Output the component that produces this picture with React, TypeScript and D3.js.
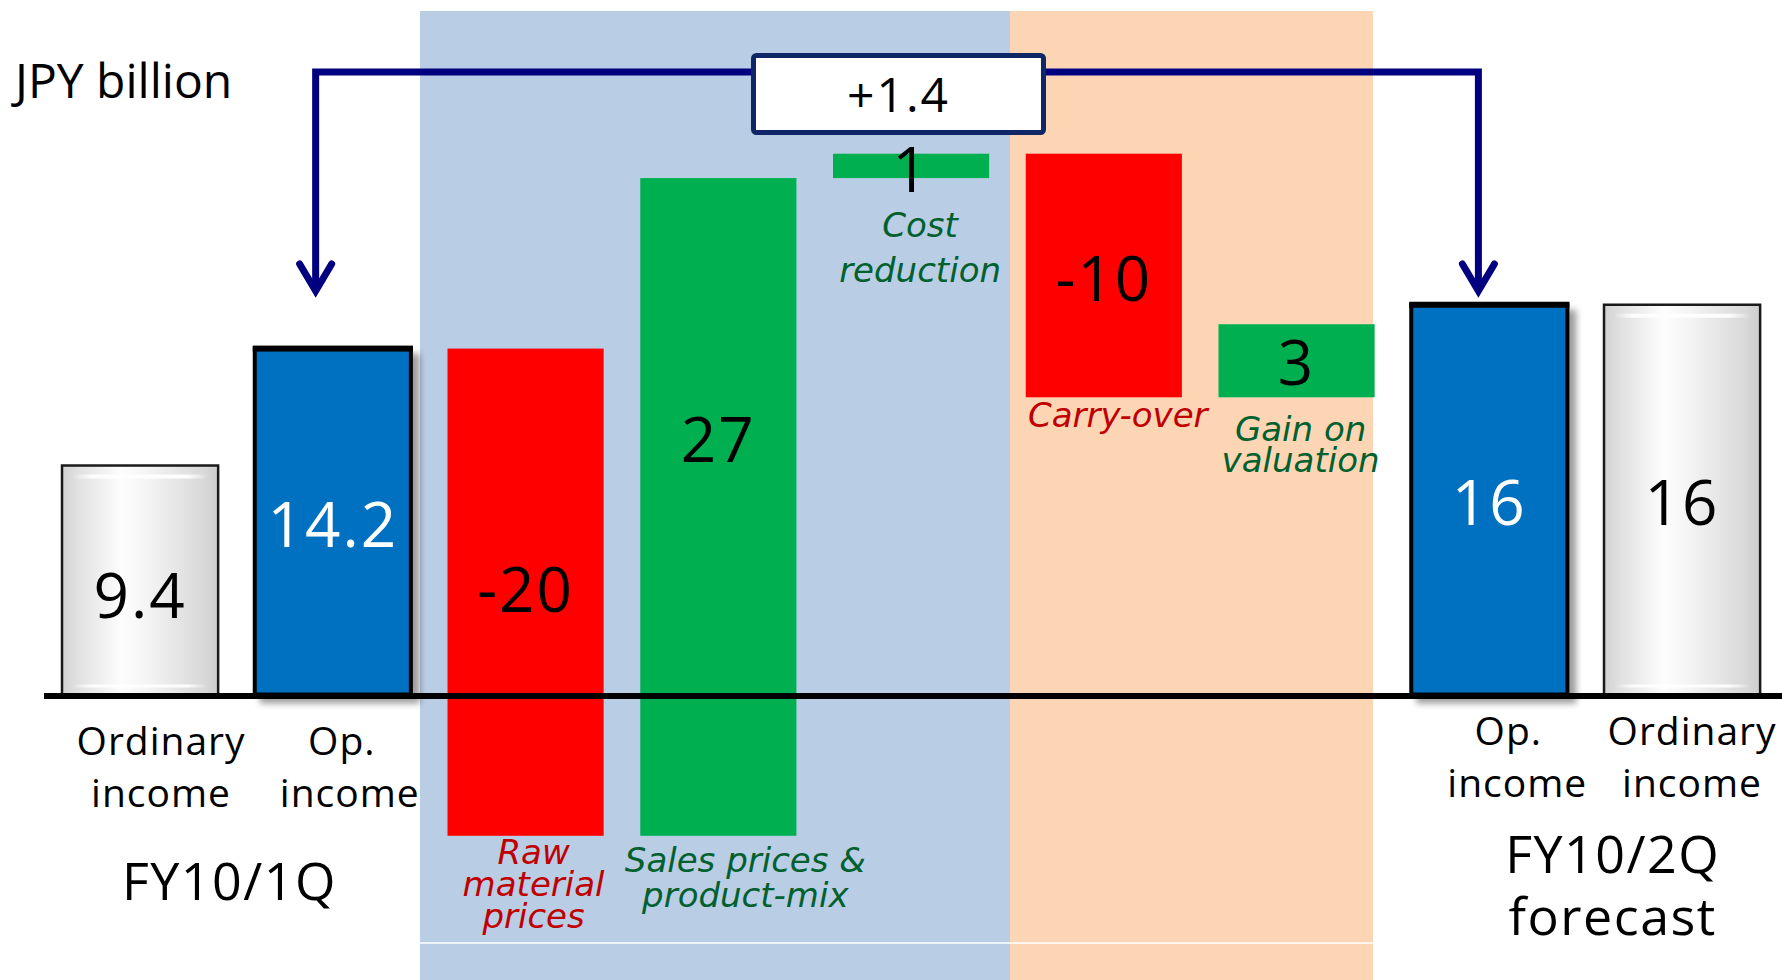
import React from "react";
import * as d3 from "d3";

const W = 1782;
const H = 980;

// ---- data ----
const barKeys = ["oi10_1q", "op10_1q", "raw", "sales", "cost", "carry", "gain", "op10_2q", "oi10_2q"];
const barKinds = ["ordinary", "operating", "delta", "delta", "delta", "delta", "delta", "operating", "ordinary"];
const barValues = [9.4, 14.2, -20, 27, 1, -10, 3, 16, 16];
const valueLabels = ["9.4", "14.2", "-20", "27", "1", "-10", "3", "16", "16"];
const axisLabels: (string[] | null)[] = [
  ["Ordinary", "income"],
  ["Op.", "income"],
  null, null, null, null, null,
  ["Op.", "income"],
  ["Ordinary", "income"],
];
const factorLabels = [
  ["Raw", "material", "prices"],
  ["Sales prices &", "product-mix"],
  ["Cost", "reduction"],
  ["Carry-over"],
  ["Gain on", "valuation"],
];
const periodLabels = [["FY10/1Q"], ["FY10/2Q", "forecast"]];
const changeLabel = "+1.4";
const unitLabel = "JPY billion";

// ---- layout tweaks ----
const valueLabelDy = [16, 3, -2, 4, 4, 3, 2, 3, 3];
const valueLabelFromZero = [false, false, false, true, false, false, false, false, false];
const factorLabelDx = [8, 27, 9, 14, 4];
const factorLabelDy = [28, 36, 59, 30, 44];
const factorLineHeight = [32, 35, 45, 30, 31];
const axisLabelDx = [21, 9, 0, 0, 0, 0, 0, 19, 10];
const axisLabelDx2 = [21, 17, 0, 0, 0, 0, 0, 28, 10];

const COLORS = {
  operating: "#0070C0",
  up: "#00B050",
  down: "#FF0000",
  upText: "#00602E",
  downText: "#C00000",
  bgBlue: "#B9CDE5",
  bgOrange: "#FCD5B5",
  bracket: "#000080",
  box: "#0F2766",
};

const SANS = "'Open Sans', 'Noto Sans', sans-serif";
const ITALIC = "'DejaVu Sans', 'Noto Sans', sans-serif";

export default function App() {
  const x = d3
    .scaleBand<string>()
    .domain(barKeys)
    .range([43.7, 1778.45])
    .paddingInner(0.19)
    .paddingOuter(0.095);
  const bw = x.bandwidth();
  const y = d3.scaleLinear().domain([0, 16]).range([694.5, 694.5 - 16 * 24.36]);
  const zeroY = 696;

  // waterfall extents
  let run = 0;
  const segs = barValues.map((v, i) => {
    if (barKinds[i] === "delta") {
      const a = run;
      const b = run + v;
      run = b;
      return { lo: Math.min(a, b), hi: Math.max(a, b) };
    }
    if (i === 1) run = v;
    return { lo: 0, hi: v };
  });

  const cx = (i: number) => (x(barKeys[i]) as number) + bw / 2;

  const blueX0 = (x("raw") as number) - 27.5;
  const blueX1 = (x("carry") as number) - 15.75;
  const orangeX1 = (x("gain") as number) + bw - 1.6;

  const arrowL = (x("op10_1q") as number) + bw * 0.39;
  const arrowR = (x("op10_2q") as number) + bw * 0.43;
  const bracketY = 72;
  const tipY = 291;

  const deltaIdx = barKeys.map((_, i) => i).filter((i) => barKinds[i] === "delta");

  return (
    <svg
      width={W}
      height={H}
      style={{ position: "absolute", left: 0, top: 0, display: "block", background: "#fff" }}
    >
      <defs>
        <linearGradient id="grayBar" x1="0" x2="1" y1="0" y2="0">
          <stop offset="0" stopColor="#d2d2d2" />
          <stop offset="0.1" stopColor="#e0e0e0" />
          <stop offset="0.38" stopColor="#fdfdfd" />
          <stop offset="0.55" stopColor="#f4f4f4" />
          <stop offset="0.9" stopColor="#d9d9d9" />
          <stop offset="1" stopColor="#cdcdcd" />
        </linearGradient>
        <linearGradient id="shine" x1="0" x2="1" y1="0" y2="0">
          <stop offset="0" stopColor="#fff" stopOpacity="0" />
          <stop offset="0.15" stopColor="#fff" stopOpacity="0.9" />
          <stop offset="0.85" stopColor="#fff" stopOpacity="0.9" />
          <stop offset="1" stopColor="#fff" stopOpacity="0" />
        </linearGradient>
        <filter id="barShadow" x="-20%" y="-20%" width="150%" height="140%">
          <feDropShadow dx="7" dy="7" stdDeviation="3" floodColor="#000" floodOpacity="0.38" />
        </filter>
      </defs>

      {/* factor background bands */}
      <rect x={blueX0} y={11} width={blueX1 - blueX0} height={H - 11} fill={COLORS.bgBlue} />
      <rect x={blueX1} y={11} width={orangeX1 - blueX1} height={H - 11} fill={COLORS.bgOrange} />
      <line x1={blueX0} x2={orangeX1} y1={943} y2={943} stroke="#fff" strokeWidth={1.5} />

      {/* total bars */}
      {barKeys.map((k, i) => {
        const kind = barKinds[i];
        if (kind === "delta") return null;
        const x0 = x(k) as number;
        const top = y(segs[i].hi);
        const bot = y(0);
        if (kind === "ordinary") {
          return (
            <g key={k}>
              <rect x={x0} y={top} width={bw} height={bot - top} fill="url(#grayBar)" stroke="#1a1a1a" strokeWidth={2.5} />
              <rect x={x0 + 10} y={top + 9} width={bw - 20} height={4} fill="url(#shine)" />
              <rect x={x0 + 10} y={bot - 10} width={bw - 20} height={3} fill="url(#shine)" />
            </g>
          );
        }
        return (
          <g key={k}>
            <rect
              x={x0}
              y={top}
              width={bw}
              height={bot - top}
              fill={COLORS.operating}
              stroke="#000"
              strokeWidth={4}
              filter="url(#barShadow)"
            />
            <rect x={x0 - 2} y={top - 3} width={bw + 4} height={6} fill="#000" />
          </g>
        );
      })}

      {/* bridge bars */}
      {deltaIdx.map((i) => (
        <rect
          key={barKeys[i]}
          x={x(barKeys[i]) as number}
          y={y(segs[i].hi)}
          width={bw}
          height={y(segs[i].lo) - y(segs[i].hi)}
          fill={barValues[i] < 0 ? COLORS.down : COLORS.up}
        />
      ))}

      {/* zero line */}
      <line x1={44} x2={W} y1={zeroY} y2={zeroY} stroke="#000" strokeWidth={6} />

      {/* value labels */}
      {barKeys.map((k, i) => {
        const lo = valueLabelFromZero[i] ? Math.max(0, segs[i].lo) : segs[i].lo;
        const mid = (y(lo) + y(segs[i].hi)) / 2;
        const fill = barKinds[i] === "operating" ? "#fff" : "#000";
        return (
          <text
            key={k}
            x={cx(i)}
            y={mid + 62 * 0.357 + valueLabelDy[i]}
            textAnchor="middle"
            fontFamily={SANS}
            fontSize={62}
            letterSpacing={2}
            fill={fill}
          >
            {valueLabels[i]}
          </text>
        );
      })}

      {/* factor labels */}
      {deltaIdx.map((i, j) => {
        const lines = factorLabels[j];
        const base = y(segs[i].lo) + factorLabelDy[j];
        return (
          <text
            key={barKeys[i]}
            textAnchor="middle"
            fontFamily={ITALIC}
            fontStyle="italic"
            fontSize={34}
            fill={barValues[i] < 0 ? COLORS.downText : COLORS.upText}
          >
            {lines.map((t, li) => (
              <tspan key={li} x={cx(i) + factorLabelDx[j]} y={base + li * factorLineHeight[j]}>
                {t}
              </tspan>
            ))}
          </text>
        );
      })}

      {/* category labels */}
      {axisLabels.map((lines, i) => {
        if (!lines) return null;
        const right = i > 4;
        const b1 = right ? 745 : 755;
        return (
          <text key={i} textAnchor="middle" fontFamily={SANS} fontSize={39} letterSpacing={1} fill="#000">
            <tspan x={cx(i) + axisLabelDx[i]} y={b1}>
              {lines[0]}
            </tspan>
            <tspan x={cx(i) + axisLabelDx2[i]} y={b1 + 52}>
              {lines[1]}
            </tspan>
          </text>
        );
      })}

      {/* period labels */}
      <text textAnchor="middle" fontFamily={SANS} fontSize={52} letterSpacing={1.5} fill="#000">
        <tspan x={(cx(0) + cx(1)) / 2 - 7} y={900}>
          {periodLabels[0][0]}
        </tspan>
      </text>
      <text textAnchor="middle" fontFamily={SANS} fontSize={52} letterSpacing={1.5} fill="#000">
        {periodLabels[1].map((t, li) => (
          <tspan key={li} x={(cx(7) + cx(8)) / 2 + 27} y={873 + li * 62}>
            {t}
          </tspan>
        ))}
      </text>

      {/* unit */}
      <text x={15} y={98} fontFamily={SANS} fontSize={48} fill="#000">
        {unitLabel}
      </text>

      {/* bracket with arrows */}
      <path
        d={`M${arrowL},${tipY} V${bracketY} H${arrowR} V${tipY}`}
        fill="none"
        stroke={COLORS.bracket}
        strokeWidth={7}
        strokeLinejoin="miter"
      />
      {[arrowL, arrowR].map((ax, i) => (
        <path
          key={i}
          d={`M${ax - 16},${tipY - 27} L${ax},${tipY} L${ax + 16},${tipY - 27}`}
          fill="none"
          stroke={COLORS.bracket}
          strokeWidth={7}
          strokeLinecap="round"
          strokeLinejoin="miter"
        />
      ))}

      {/* change box */}
      <rect x={753.5} y={55.5} width={290} height={77} rx={3} fill="#fff" stroke={COLORS.box} strokeWidth={5} />
      <text x={898.5} y={112} textAnchor="middle" fontFamily={SANS} fontSize={48} letterSpacing={2} fill="#000">
        {changeLabel}
      </text>
    </svg>
  );
}
